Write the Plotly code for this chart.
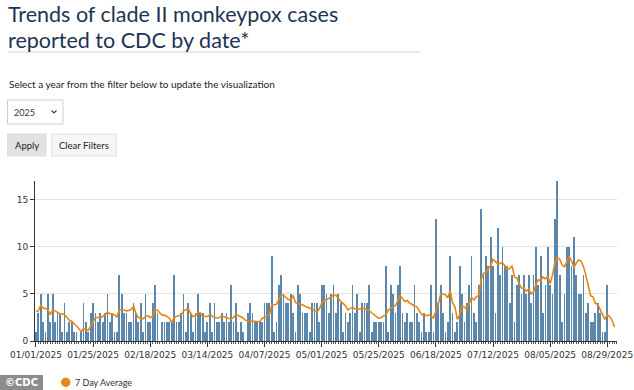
import pandas as pd
import plotly.graph_objects as go

# ---- data ----
start_date = "2025-01-01"
cases = [
    1, 3, 5, 2, 1, 5, 2, 5, 2, 3,
    3, 1, 4, 1, 2, 2, 1, 1, 0, 1,
    4, 2, 1, 3, 4, 3, 2, 3, 2, 3,
    5, 2, 3, 1, 1, 7, 5, 3, 3, 2,
    2, 4, 3, 2, 4, 1, 5, 2, 2, 4,
    6, 3, 0, 2, 2, 2, 2, 2, 7, 2,
    2, 3, 5, 1, 4, 3, 1, 3, 5, 3,
    3, 1, 2, 4, 1, 4, 2, 2, 3, 2,
    3, 2, 6, 2, 4, 1, 2, 1, 0, 3,
    4, 3, 2, 2, 2, 2, 4, 4, 4, 9,
    1, 2, 6, 7, 5, 4, 4, 5, 3, 1,
    6, 5, 3, 3, 3, 1, 4, 4, 4, 2,
    6, 6, 5, 3, 5, 6, 3, 5, 4, 1,
    3, 2, 3, 6, 3, 5, 1, 4, 4, 4,
    6, 1, 2, 2, 2, 2, 2, 8, 1, 6,
    5, 3, 6, 8, 3, 2, 3, 2, 2, 6,
    3, 2, 1, 3, 1, 1, 6, 1, 13, 4,
    6, 3, 1, 2, 9, 3, 1, 2, 8, 5,
    2, 4, 6, 9, 3, 2, 6, 14, 7, 9,
    8, 11, 8, 3, 12, 7, 10, 8, 8, 4,
    7, 2, 6, 7, 5, 7, 5, 7, 4, 7,
    10, 6, 9, 3, 6, 10, 6, 5, 13, 17,
    7, 2, 5, 10, 10, 8, 11, 7, 5, 5,
    7, 3, 4, 2, 2, 3, 4, 3, 1, 1,
    6, 0, 0, 0,
]
avg7 = [
    3.15, 3.2, 3.8, 3.5, 3.45, 3.3, 2.8, 3.3, 3.2, 3.0,
    2.9, 2.9, 2.8, 2.5, 2.2, 2.1, 1.9, 1.6, 1.3, 1.0,
    1.3, 1.2, 1.15, 1.6, 2.1, 2.5, 2.5, 2.45, 2.6, 2.8,
    3.05, 2.9, 2.85, 2.8, 2.55, 3.3, 3.35, 3.25, 3.2, 3.25,
    3.35, 3.7, 2.9, 2.5, 2.45, 2.35, 2.6, 2.7, 2.5, 2.6,
    3.4, 3.25, 3.0, 2.75, 2.75, 2.6, 2.45, 1.9, 2.5, 2.6,
    2.7, 2.8, 3.2, 3.35, 3.4, 2.9, 2.6, 2.7, 3.0, 3.0,
    2.6, 2.6, 2.6, 2.8, 2.6, 2.5, 2.45, 2.5, 2.65, 2.6,
    2.5, 2.4, 2.35, 2.5, 2.8, 2.7, 2.6, 2.45, 2.2, 2.15,
    2.1, 2.1, 2.1, 2.1, 2.05, 2.4, 2.55, 2.65, 2.75, 3.8,
    3.85, 3.9, 4.4, 4.85, 4.85, 4.6, 4.4, 4.3, 4.85, 4.1,
    3.95, 3.9, 3.85, 3.7, 3.6, 3.5, 3.4, 3.2, 3.05, 3.4,
    4.0, 4.3, 4.4, 4.5, 4.7, 4.85, 4.85, 4.5, 4.2, 4.0,
    3.75, 3.3, 3.5, 3.6, 3.4, 3.4, 3.4, 3.5, 3.45, 3.3,
    3.25, 3.0, 2.8, 2.6, 2.4, 2.5, 2.7, 2.8, 3.3, 3.5,
    3.6, 3.75, 4.3, 4.85, 4.5, 4.2, 4.3, 4.0, 3.9, 3.7,
    3.65, 3.2, 2.8, 2.75, 2.7, 2.75, 2.65, 2.45, 3.1, 3.9,
    5.0, 5.0, 4.9, 4.6, 5.3, 4.1, 3.6, 2.3, 2.8, 3.7,
    3.6, 3.35, 4.0, 4.6, 4.35, 4.7, 4.8, 6.5, 7.2, 7.25,
    7.7, 8.0, 8.7, 8.5, 8.2, 8.25, 8.3, 8.0, 7.6, 7.7,
    8.0, 6.8, 6.7, 6.1, 5.6, 5.6, 5.3, 5.5, 5.0, 5.2,
    6.0, 6.5, 6.4, 6.8, 6.6, 6.9, 6.1, 7.0, 8.3, 8.85,
    8.7, 8.1, 7.9, 8.4, 9.0, 8.5, 7.8, 8.3, 8.6, 8.5,
    7.9, 7.0, 6.0, 4.8, 4.7, 4.0, 3.9, 3.3, 2.75, 2.3,
    2.8, 2.6, 2.2, 1.5,
]
tick_dates = ["2025-01-01", "2025-01-25", "2025-02-18", "2025-03-14", "2025-04-07",
              "2025-05-01", "2025-05-25", "2025-06-18", "2025-07-12", "2025-08-05",
              "2025-08-29"]
tick_labels = ["01/01/2025", "01/25/2025", "02/18/2025", "03/14/2025", "04/07/2025",
               "05/01/2025", "05/25/2025", "06/18/2025", "07/12/2025", "08/05/2025",
               "08/29/2025"]
y_ticks = [0, 5, 10, 15]

title_line1 = "Trends of clade II monkeypox cases"
title_line2 = "reported to CDC by date*"
subtitle = "Select a year from the filter below to update the visualization"
legend_label = "7 Day Average"

dates = pd.date_range(start_date, periods=len(cases), freq="D")

# ---- layout geometry (pixels) ----
W, H = 634, 390
L, R, T, B = 35, 17, 181, 49
PW, PH = W - L - R, H - T - B


def PX(x):
    return (x - L) / PW


def PY(y):
    return (H - B - y) / PH


BAR_COLOR = "#5a87ab"
LINE_COLOR = "#e8860f"
FONT = "Lato"

fig = go.Figure()
fig.add_trace(go.Bar(
    x=dates, y=cases, marker=dict(color=BAR_COLOR, line=dict(width=0)),
    width=0.33 * 86400000, showlegend=False, hoverinfo="x+y",
))
fig.add_trace(go.Scatter(
    x=dates, y=avg7, mode="lines", line=dict(color=LINE_COLOR, width=1.6),
    showlegend=False, name=legend_label,
))

shapes = [
    dict(type="line", xref="paper", yref="paper", x0=PX(8), x1=PX(420), y0=PY(52), y1=PY(52),
         line=dict(color="#d4d4d4", width=1)),
    dict(type="rect", xref="paper", yref="paper", x0=PX(7.5), x1=PX(63), y0=PY(100), y1=PY(124),
         line=dict(color="#cfcfcf", width=1), fillcolor="white"),
    dict(type="path", xref="paper", yref="paper",
         path=f"M {PX(51.5)},{PY(110.5)} L {PX(54)},{PY(113)} L {PX(56.5)},{PY(110.5)}",
         line=dict(color="#444", width=1.2)),
    dict(type="rect", xref="paper", yref="paper", x0=PX(7.5), x1=PX(46), y0=PY(134), y1=PY(156),
         line=dict(color="#dedede", width=1), fillcolor="#e2e2e2"),
    dict(type="rect", xref="paper", yref="paper", x0=PX(52), x1=PX(116), y0=PY(134), y1=PY(156),
         line=dict(color="#dcdcdc", width=1), fillcolor="#f6f6f6"),
    dict(type="rect", xref="paper", yref="paper", x0=PX(0), x1=PX(43), y0=PY(375), y1=PY(390),
         line=dict(width=0), fillcolor="#8c8c8c"),
    dict(type="circle", xref="paper", yref="paper", x0=PX(61.5), x1=PX(70), y0=PY(378), y1=PY(386.5),
         line=dict(color=LINE_COLOR, width=1), fillcolor=LINE_COLOR),
]

annotations = [
    dict(text=title_line1, x=PX(6), y=PY(14), xanchor="left", yanchor="middle",
         font=dict(family=FONT, size=21.5, color="#1d3455")),
    dict(text=title_line2, x=PX(6), y=PY(40), xanchor="left", yanchor="middle",
         font=dict(family=FONT, size=21.5, color="#1d3455")),
    dict(text=subtitle, x=PX(7), y=PY(84), xanchor="left", yanchor="middle",
         font=dict(family=FONT, size=10, color="#222")),
    dict(text="2025", x=PX(12), y=PY(112), xanchor="left", yanchor="middle",
         font=dict(family=FONT, size=9, color="#333")),
    dict(text="Apply", x=PX(26.5), y=PY(145), xanchor="center", yanchor="middle",
         font=dict(family=FONT, size=9.5, color="#222")),
    dict(text="Clear Filters", x=PX(84), y=PY(145), xanchor="center", yanchor="middle",
         font=dict(family=FONT, size=9.5, color="#222")),
    dict(text="<b>©CDC</b>", x=PX(21.5), y=PY(382.5), xanchor="center", yanchor="middle",
         font=dict(family="DejaVu Sans", size=10, color="white")),
    dict(text=legend_label, x=PX(73), y=PY(382.5), xanchor="left", yanchor="middle",
         font=dict(family=FONT, size=9, color="#333")),
]
for a in annotations:
    a.update(xref="paper", yref="paper", showarrow=False)

fig.update_layout(
    width=W, height=H,
    margin=dict(l=L, r=R, t=T, b=B, pad=0, autoexpand=False),
    paper_bgcolor="white", plot_bgcolor="white",
    bargap=0, shapes=shapes, annotations=annotations,
    font=dict(family="DejaVu Sans", size=9, color="#333"),
)
fig.update_xaxes(
    type="date", automargin=False,
    range=[pd.Timestamp("2024-12-31 14:00"), pd.Timestamp("2025-09-02 02:00")],
    tickvals=pd.to_datetime(tick_dates), ticktext=tick_labels,
    ticks="outside", ticklen=5, tickcolor="#333", tickfont=dict(size=9, color="#333"),
    showline=True, linecolor="#333", linewidth=1, showgrid=False, zeroline=False,
    minor=dict(ticks="outside", dtick=86400000, ticklen=2, tickcolor="#555", showgrid=False),
)
fig.update_yaxes(
    range=[0, 17], tickvals=y_ticks, ticks="outside", ticklen=4, tickcolor="#333",
    tickfont=dict(size=9, color="#333"), automargin=False,
    showline=True, linecolor="#333", linewidth=1,
    showgrid=True, gridcolor="#e2e2e2", gridwidth=1, zeroline=False,
)

fig.write_html(
    "out.html",
    config={"displayModeBar": False},
    post_script="document.body.style.margin='0';document.body.style.padding='0';",
)
